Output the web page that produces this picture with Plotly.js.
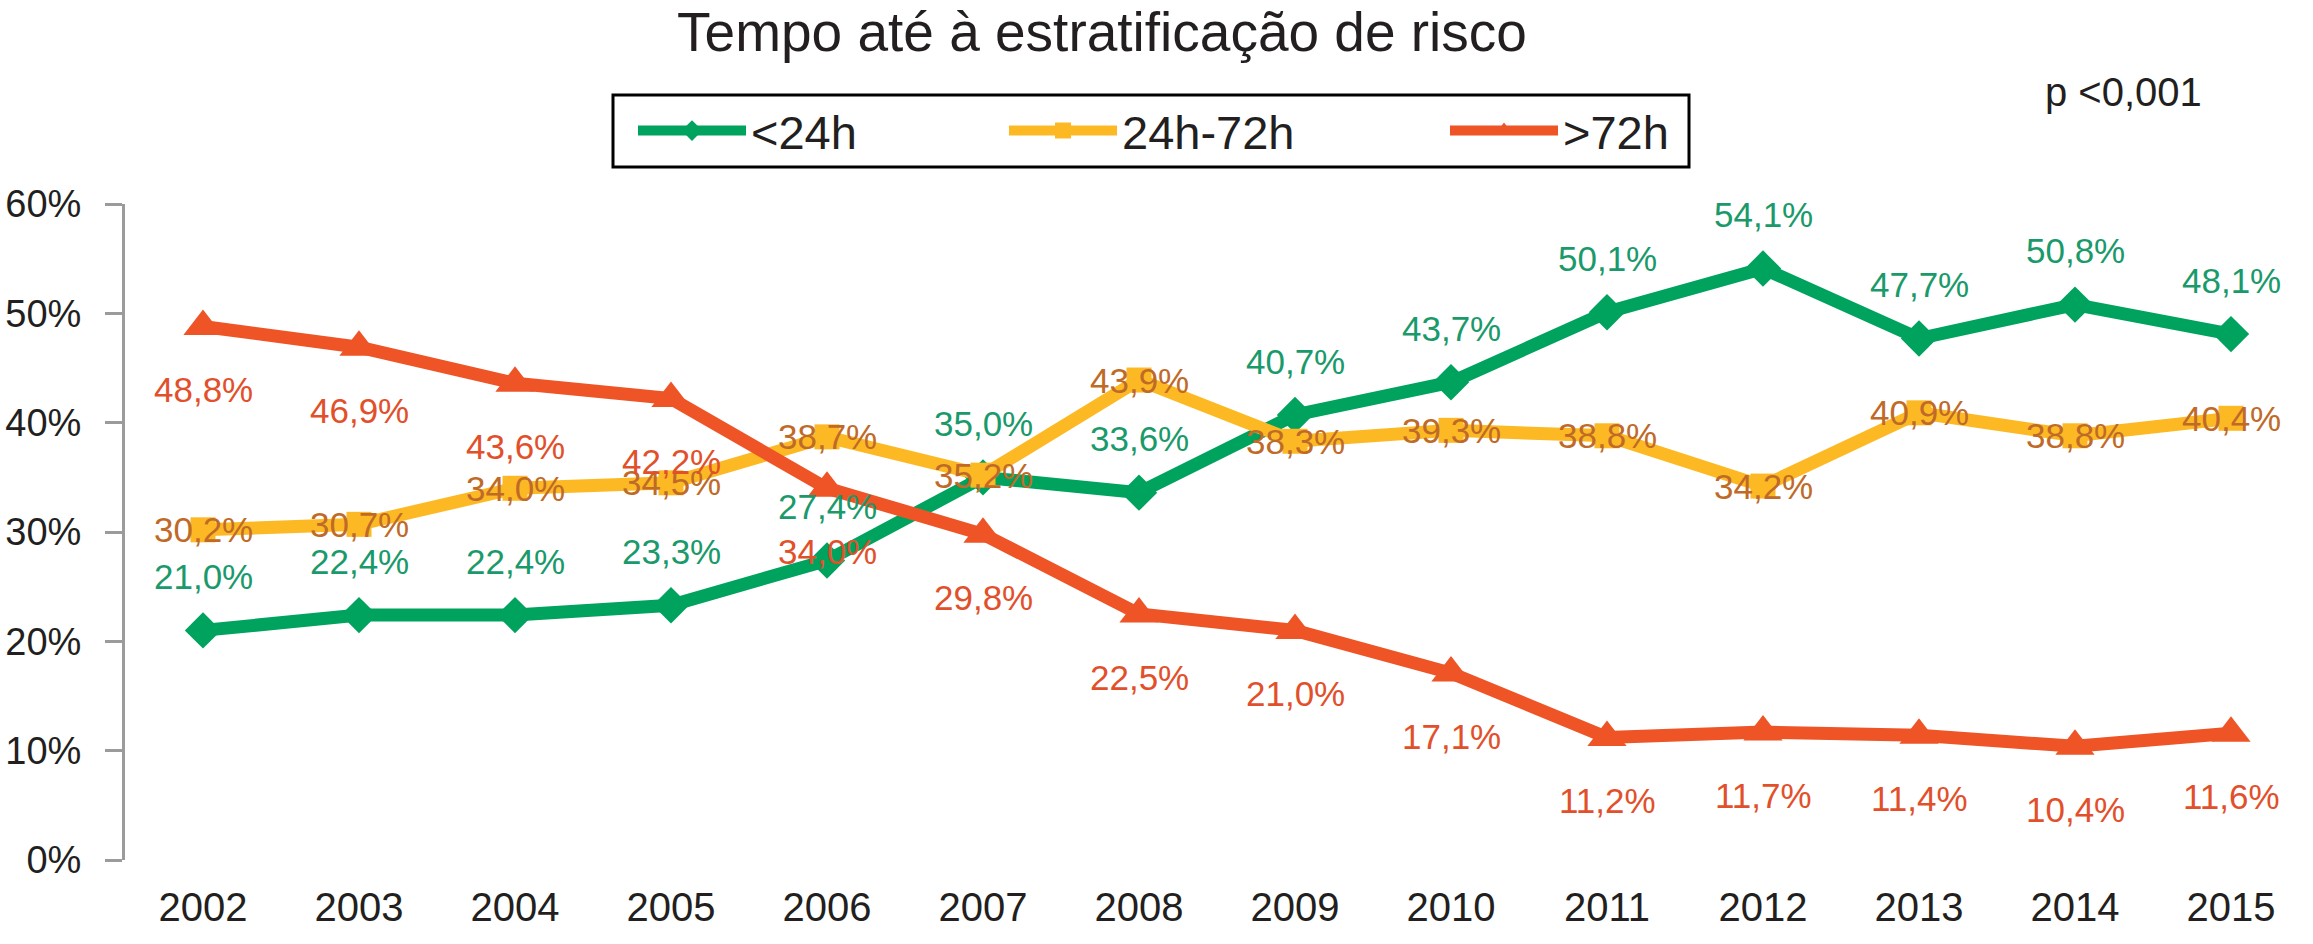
<!DOCTYPE html>
<html lang="pt">
<head>
<meta charset="utf-8">
<title>Tempo até à estratificação de risco</title>
<script src="https://cdn.plot.ly/plotly-3.0.1.min.js"></script>
<style>
  html, body { margin: 0; padding: 0; background: #ffffff; }
  #chart { width: 2313px; height: 944px; }
</style>
</head>
<body>
<div id="chart"></div>
<script>
// values (percent of patients per year)
const YEARS = ["2002", "2003", "2004", "2005", "2006", "2007", "2008",
  "2009", "2010", "2011", "2012", "2013", "2014", "2015"];
const LESS_24H = [21.0, 22.4, 22.4, 23.3, 27.4, 35.0, 33.6, 40.7, 43.7, 50.1, 54.1, 47.7, 50.8, 48.1];
const H24_72 = [30.2, 30.7, 34.0, 34.5, 38.7, 35.2, 43.9, 38.3, 39.3, 38.8, 34.2, 40.9, 38.8, 40.4];
const MORE_72H = [48.8, 46.9, 43.6, 42.2, 34.0, 29.8, 22.5, 21.0, 17.1, 11.2, 11.7, 11.4, 10.4, 11.6];
const SERIES_NAMES = ["<24h", "24h-72h", ">72h"];
const Y_TICKS = [0, 10, 20, 30, 40, 50, 60];

const THEME = {
  ink: "#231f20",
  axis: "#9b9b9b",
  green: "#00a35e",
  greenText: "#1a9a6b",
  yellow: "#fdb924",
  yellowText: "#c06a28",
  red: "#ee5426",
  redText: "#e2502b",
  fontFamily: "\"Liberation Sans\", Arial, Helvetica, sans-serif",
};

// plot area in pixels, used to place the legend pieces in paper units
const PLOT = { left: 125, right: 2309, top: 204, bottom: 860 };
const px2x = (px) => (px - PLOT.left) / (PLOT.right - PLOT.left);
const px2y = (py) => (PLOT.bottom - py) / (PLOT.bottom - PLOT.top);

const fmt = (v) => v.toFixed(1).replace(".", ",") + "%";

function lineTrace(y, name, color, symbol, size, legend) {
  return {
    type: "scatter",
    mode: "lines+markers",
    x: YEARS,
    y,
    name,
    legend,
    line: { color, width: 13 },
    marker: { color, symbol, size },
    hoverinfo: "skip",
  };
}

// category axis: annotations take the category index, not the "2002" string
function labelNotes(y, color, shift) {
  return y.map((v, i) => ({
    x: i,
    y: v,
    xref: "x",
    yref: "y",
    text: fmt(v),
    showarrow: false,
    yshift: shift,
    xanchor: "center",
    yanchor: "middle",
    font: { size: 35, color, family: THEME.fontFamily },
  }));
}

function legendBox(xpx, ypx) {
  return {
    x: px2x(xpx),
    y: px2y(ypx),
    xanchor: "left",
    yanchor: "middle",
    orientation: "h",
    bgcolor: "rgba(0,0,0,0)",
    borderwidth: 0,
    itemwidth: 108,
    itemclick: false,
    itemdoubleclick: false,
    font: { size: 47, color: THEME.ink, family: THEME.fontFamily },
  };
}

const traces = [
  lineTrace(LESS_24H, SERIES_NAMES[0], THEME.green, "diamond", 28, "legend"),
  lineTrace(H24_72, SERIES_NAMES[1], THEME.yellow, "square", 25, "legend2"),
  lineTrace(MORE_72H, SERIES_NAMES[2], THEME.red, "triangle-up", 34, "legend3"),
];

const annotations = [
  ...labelNotes(LESS_24H, THEME.greenText, 54),
  ...labelNotes(H24_72, THEME.yellowText, 0),
  ...labelNotes(MORE_72H, THEME.redText, -63),
  {
    x: px2x(2123),
    y: px2y(92),
    xref: "paper",
    yref: "paper",
    text: "p <0,001",
    showarrow: false,
    xanchor: "center",
    yanchor: "middle",
    font: { size: 40, color: THEME.ink, family: THEME.fontFamily },
  },
];

const layout = {
  width: 2313,
  height: 944,
  paper_bgcolor: "#ffffff",
  plot_bgcolor: "#ffffff",
  font: { family: THEME.fontFamily, color: THEME.ink },
  margin: { l: PLOT.left, r: 2313 - PLOT.right, t: PLOT.top, b: 944 - PLOT.bottom },
  title: {
    text: "Tempo até à estratificação de risco",
    x: 1102 / 2313,
    xref: "container",
    xanchor: "center",
    y: 1 - 32 / 944,
    yref: "container",
    yanchor: "middle",
    font: { size: 55, color: THEME.ink, family: THEME.fontFamily },
  },
  showlegend: true,
  legend: legendBox(633, 131),
  legend2: legendBox(1004, 131),
  legend3: legendBox(1445, 131),
  shapes: [{
    type: "rect",
    xref: "paper",
    yref: "paper",
    x0: px2x(613),
    x1: px2x(1689),
    y0: px2y(167),
    y1: px2y(95),
    line: { color: "#000000", width: 3 },
    fillcolor: "rgba(0,0,0,0)",
  }],
  xaxis: {
    type: "category",
    range: [-0.5, YEARS.length - 0.5],
    showline: false,
    showgrid: false,
    zeroline: false,
    ticks: "",
    ticklabelstandoff: 20,
    tickfont: { size: 40, color: THEME.ink },
    fixedrange: true,
  },
  yaxis: {
    range: [0, 60],
    tickmode: "array",
    tickvals: Y_TICKS,
    ticktext: Y_TICKS.map((t) => t + "%"),
    showline: true,
    linecolor: THEME.axis,
    linewidth: 3,
    ticks: "outside",
    ticklen: 17,
    tickwidth: 3,
    tickcolor: THEME.axis,
    ticklabelstandoff: 16,
    showgrid: false,
    zeroline: false,
    tickfont: { size: 38, color: THEME.ink },
    fixedrange: true,
  },
  annotations,
  hovermode: false,
  dragmode: false,
};

Plotly.newPlot("chart", traces, layout, {
  displayModeBar: false,
  staticPlot: true,
  responsive: false,
});
</script>
</body>
</html>
